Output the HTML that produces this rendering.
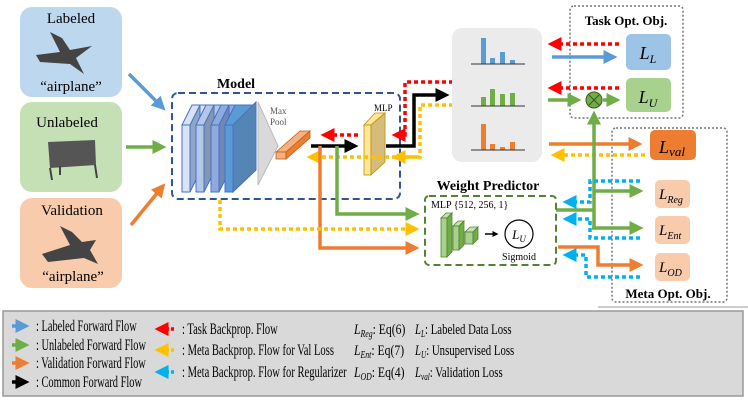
<!DOCTYPE html>
<html><head><meta charset="utf-8"><style>
body{margin:0;background:#fff}
svg{display:block;font-family:"Liberation Serif",serif}
</style></head><body>
<svg width="748" height="400" viewBox="0 0 748 400" xmlns="http://www.w3.org/2000/svg">
<defs>
<marker id="ab" markerWidth="4" markerHeight="4" refX="3" refY="2" orient="auto" markerUnits="strokeWidth"><path d="M0,0L4,2L0,4z" fill="#5b9bd5"/></marker>
<marker id="ag" markerWidth="4" markerHeight="4" refX="3" refY="2" orient="auto" markerUnits="strokeWidth"><path d="M0,0L4,2L0,4z" fill="#70ad47"/></marker>
<marker id="ao" markerWidth="4" markerHeight="4" refX="3" refY="2" orient="auto" markerUnits="strokeWidth"><path d="M0,0L4,2L0,4z" fill="#ed7d31"/></marker>
<marker id="ak" markerWidth="4" markerHeight="4" refX="3" refY="2" orient="auto" markerUnits="strokeWidth"><path d="M0,0L4,2L0,4z" fill="#000"/></marker>
<marker id="ar" markerWidth="4" markerHeight="4" refX="3" refY="2" orient="auto" markerUnits="strokeWidth"><path d="M0,0L4,2L0,4z" fill="#ff0000"/></marker>
<marker id="ay" markerWidth="4" markerHeight="4" refX="3" refY="2" orient="auto" markerUnits="strokeWidth"><path d="M0,0L4,2L0,4z" fill="#ffc000"/></marker>
<marker id="ac" markerWidth="4" markerHeight="4" refX="3" refY="2" orient="auto" markerUnits="strokeWidth"><path d="M0,0L4,2L0,4z" fill="#00b0f0"/></marker>
</defs>

<rect x="20" y="7" width="102" height="90" rx="12" fill="#bdd7ee"/>
<text x="71" y="23" font-size="15" text-anchor="middle">Labeled</text>
<path d="M36,55 L60,52 L50,32 L62,38 L70,50 L92,46 L76,58 L84,74 L70,64 L40,62z" fill="#444"/>
<text x="71" y="91" font-size="15" text-anchor="middle">“airplane”</text>
<rect x="20" y="102" width="102" height="90" rx="12" fill="#c5e0b4"/>
<text x="67" y="127" font-size="15" text-anchor="middle">Unlabeled</text>
<path d="M48,142 L95,140 L96,165 L50,168z" fill="#555"/>
<path d="M50,168 L52,180 M95,165 L97,178 M60,166 L60,175" stroke="#444" stroke-width="2"/>
<rect x="20" y="198" width="102" height="90" rx="12" fill="#f8cbad"/>
<text x="72" y="215" font-size="15" text-anchor="middle">Validation</text>
<path d="M42,254 L70,245 L60,226 L72,232 L82,242 L96,240 L90,250 L98,264 L84,258 L48,262z" fill="#444"/>
<text x="73" y="281" font-size="15" text-anchor="middle">“airplane”</text>

<line x1="129" y1="74" x2="163" y2="108" stroke="#5b9bd5" stroke-width="3.5" marker-end="url(#ab)"/>
<line x1="126" y1="147" x2="163" y2="147" stroke="#70ad47" stroke-width="3.5" marker-end="url(#ag)"/>
<line x1="131" y1="225" x2="163" y2="186" stroke="#ed7d31" stroke-width="3.5" marker-end="url(#ao)"/>

<text x="236" y="88" font-size="14" font-weight="bold" text-anchor="middle">Model</text>
<rect x="172" y="93" width="228" height="106" rx="6" fill="none" stroke="#2f5597" stroke-width="2" stroke-dasharray="7,4"/>
<g stroke="#4472c4" stroke-width="1">
<path d="M182,125 L192,105 L212,105 L202,125z" fill="#dae3f3"/><rect x="182" y="125" width="8" height="67" fill="#dae3f3"/><path d="M190,125 L200,105 L200,172 L190,192z" fill="#8fa6c8"/>
<path d="M196,125 L206,105 L226,105 L216,125z" fill="#b4c7e7"/><rect x="196" y="125" width="8" height="67" fill="#b4c7e7"/><path d="M204,125 L214,105 L214,172 L204,192z" fill="#8497b0"/>
<path d="M211,125 L221,105 L241,105 L231,125z" fill="#8faadc"/><rect x="211" y="125" width="8" height="67" fill="#8faadc"/><path d="M219,125 L229,105 L229,172 L219,192z" fill="#6f88b6"/>
<path d="M225,125 L235,105 L255,105 L245,125z" fill="#5b9bd5"/><rect x="225" y="125" width="8" height="67" fill="#5b9bd5"/><path d="M233,125 L256,102 L256,170 L233,192z" fill="#5585b5"/>
</g>
<path d="M258,102 L278,146 L258,185z" fill="#d9d9d9" stroke="#bbb"/>
<text x="270" y="114" font-size="9" fill="#555">Max</text>
<text x="270" y="125" font-size="9" fill="#555">Pool</text>
<path d="M276,152 L300,131 L310,131 L286,152z" fill="#f4b183" stroke="#c55a11" stroke-width="0.8"/>
<rect x="276" y="152" width="10" height="7" fill="#f4b183" stroke="#c55a11" stroke-width="0.8"/>
<path d="M286,152 L310,131 L310,138 L286,159z" fill="#ed7d31" stroke="#c55a11" stroke-width="0.8"/>
<text x="374" y="111" font-size="9">MLP</text>
<path d="M364,125 L375,113 L385,113 L371,125z" fill="#ffe699" stroke="#bf9000" stroke-width="0.8"/>
<rect x="364" y="125" width="7" height="50" fill="#ffe699" stroke="#bf9000" stroke-width="0.8"/>
<path d="M371,125 L385,113 L385,162 L371,175z" fill="#d6bc7a" stroke="#bf9000" stroke-width="0.8"/>

<line x1="311" y1="146" x2="355" y2="146" stroke="#000" stroke-width="3.5" marker-end="url(#ak)"/>
<line x1="358" y1="135" x2="324" y2="135" stroke="#ff0000" stroke-width="3.5" stroke-dasharray="4,3" marker-end="url(#ar)"/>
<path d="M417,157 L310,157" fill="none" stroke="#ffc000" stroke-width="3.5" stroke-dasharray="4,3" marker-end="url(#ay)"/>
<path d="M386,146 L414,146 L414,95 L446,95" fill="none" stroke="#000" stroke-width="3.5" marker-end="url(#ak)"/>
<path d="M453,82 L405,82 L405,135 L395,135" fill="none" stroke="#ff0000" stroke-width="3.5" stroke-dasharray="4,3" marker-end="url(#ar)"/>
<path d="M453,105 L420,105 L420,157 L395,157" fill="none" stroke="#ffc000" stroke-width="3.5" stroke-dasharray="4,3" marker-end="url(#ay)"/>

<path d="M337,146 L337,214 L416,214" fill="none" stroke="#70ad47" stroke-width="3.5" marker-end="url(#ag)"/>
<path d="M320,146 L320,248 L416,248" fill="none" stroke="#ed7d31" stroke-width="3.5" marker-end="url(#ao)"/>
<path d="M220,200 L220,229 L416,229" fill="none" stroke="#ffc000" stroke-width="3.5" stroke-dasharray="4,3" marker-end="url(#ay)"/>

<rect x="452" y="28" width="90" height="134" rx="10" fill="#ebebeb"/>
<g fill="#5b9bd5"><rect x="481" y="38" width="5" height="26"/><rect x="490" y="58" width="5" height="6"/><rect x="500" y="52" width="5" height="12"/><rect x="510" y="60" width="5" height="4"/></g>
<line x1="471" y1="64" x2="525" y2="64" stroke="#333"/>
<g fill="#70ad47"><rect x="481" y="97" width="5" height="9"/><rect x="490" y="89" width="5" height="17"/><rect x="500" y="94" width="5" height="12"/><rect x="510" y="93" width="5" height="13"/></g>
<line x1="471" y1="106" x2="525" y2="106" stroke="#333"/>
<g fill="#ed7d31"><rect x="481" y="124" width="5" height="26"/><rect x="490" y="144" width="5" height="6"/><rect x="500" y="147" width="5" height="3"/><rect x="510" y="142" width="5" height="8"/></g>
<line x1="471" y1="150" x2="525" y2="150" stroke="#333"/>

<rect x="570" y="6" width="113" height="112" rx="4" fill="none" stroke="#777" stroke-width="1.5" stroke-dasharray="2,2"/>
<text x="626" y="25" font-size="13" font-weight="bold" text-anchor="middle">Task Opt. Obj.</text>
<rect x="626" y="34" width="45" height="36" rx="5" fill="#9dc3e6"/>
<text x="648" y="59" font-size="18" font-style="italic" text-anchor="middle">L<tspan font-size="12" dy="4">L</tspan></text>
<rect x="626" y="78" width="45" height="34" rx="5" fill="#a9d18e"/>
<text x="648" y="103" font-size="18" font-style="italic" text-anchor="middle">L<tspan font-size="12" dy="4">U</tspan></text>
<line x1="619" y1="44" x2="551" y2="44" stroke="#ff0000" stroke-width="3.5" stroke-dasharray="4,3" marker-end="url(#ar)"/>
<line x1="619" y1="88" x2="551" y2="88" stroke="#ff0000" stroke-width="3.5" stroke-dasharray="4,3" marker-end="url(#ar)"/>
<line x1="552" y1="57" x2="614" y2="57" stroke="#5b9bd5" stroke-width="3.5" marker-end="url(#ab)"/>
<line x1="548" y1="100" x2="578" y2="100" stroke="#70ad47" stroke-width="3.5" marker-end="url(#ag)"/>
<line x1="603" y1="100" x2="617" y2="100" stroke="#70ad47" stroke-width="3.5" marker-end="url(#ag)"/>
<circle cx="594" cy="100" r="8" fill="#70ad47" stroke="#385723"/>
<path d="M589,95 L599,105 M599,95 L589,105" stroke="#385723" stroke-width="1"/>

<rect x="612" y="128" width="115" height="174" rx="4" fill="none" stroke="#777" stroke-width="1.5" stroke-dasharray="2,2"/>
<text x="668" y="298" font-size="13" font-weight="bold" text-anchor="middle">Meta Opt. Obj.</text>
<rect x="650" y="130" width="46" height="30" rx="5" fill="#ed7d31"/>
<text x="672" y="153" font-size="18" font-style="italic" text-anchor="middle">L<tspan font-size="13" dy="3">val</tspan></text>
<line x1="549" y1="144" x2="639" y2="144" stroke="#ed7d31" stroke-width="3.5" marker-end="url(#ao)"/>
<line x1="645" y1="155" x2="554" y2="155" stroke="#ffc000" stroke-width="3.5" stroke-dasharray="4,3" marker-end="url(#ay)"/>
<rect x="655" y="180" width="35" height="28" rx="5" fill="#f8cbad"/>
<text x="659" y="199" font-size="15" font-style="italic">L<tspan font-size="10" dy="4">Reg</tspan></text>
<rect x="655" y="216" width="35" height="28" rx="5" fill="#f8cbad"/>
<text x="659" y="235" font-size="15" font-style="italic">L<tspan font-size="10" dy="4">Ent</tspan></text>
<rect x="655" y="253" width="35" height="28" rx="5" fill="#f8cbad"/>
<text x="659" y="272" font-size="15" font-style="italic">L<tspan font-size="10" dy="4">OD</tspan></text>

<path d="M556,210 L594,210" stroke="#70ad47" stroke-width="3.5" fill="none"/>
<path d="M594,228 L594,114" stroke="#70ad47" stroke-width="3.5" fill="none" marker-end="url(#ag)"/>
<line x1="594" y1="191" x2="640" y2="191" stroke="#70ad47" stroke-width="3.5" marker-end="url(#ag)"/>
<line x1="592" y1="228" x2="640" y2="228" stroke="#70ad47" stroke-width="3.5" marker-end="url(#ag)"/>
<path d="M558,247 L598,247 L598,265 L640,265" fill="none" stroke="#ed7d31" stroke-width="3.5" marker-end="url(#ao)"/>
<path d="M640,181 L590,181 L590,202 L566,202" fill="none" stroke="#00b0f0" stroke-width="3.5" stroke-dasharray="4,3" marker-end="url(#ac)"/>
<path d="M640,238 L590,238 L590,219 L566,219" fill="none" stroke="#00b0f0" stroke-width="3.5" stroke-dasharray="4,3" marker-end="url(#ac)"/>
<path d="M640,277 L586,277 L586,255 L566,255" fill="none" stroke="#00b0f0" stroke-width="3.5" stroke-dasharray="4,3" marker-end="url(#ac)"/>

<text x="488" y="190" font-size="14" font-weight="bold" text-anchor="middle">Weight Predictor</text>
<rect x="425" y="196" width="131" height="69" rx="4" fill="none" stroke="#548235" stroke-width="2" stroke-dasharray="7,4"/>
<text x="431" y="208" font-size="10">MLP {512, 256, 1}</text>
<g stroke="#548235" stroke-width="0.8">
<path d="M441,218 L446,213 L452,213 L447,218z" fill="#c5e0b4"/><rect x="441" y="218" width="6" height="39" fill="#a9d18e"/><path d="M447,218 L452,213 L452,252 L447,257z" fill="#70ad47"/>
<path d="M453,226 L458,221 L464,221 L459,226z" fill="#c5e0b4"/><rect x="453" y="226" width="6" height="24" fill="#a9d18e"/><path d="M459,226 L464,221 L464,245 L459,250z" fill="#70ad47"/>
<path d="M465,232 L470,227 L478,227 L473,232z" fill="#c5e0b4"/><rect x="465" y="232" width="8" height="12" fill="#a9d18e"/><path d="M473,232 L478,227 L478,239 L473,244z" fill="#70ad47"/>
</g>
<line x1="485" y1="234" x2="497" y2="234" stroke="#000" stroke-width="1.5" marker-end="url(#ak)"/>
<circle cx="519" cy="234" r="14" fill="#fff" stroke="#000" stroke-width="1.2"/>
<text x="519" y="239" font-size="13" font-style="italic" text-anchor="middle">L<tspan font-size="9" dy="3">U</tspan></text>
<text x="519" y="260" font-size="10" text-anchor="middle">Sigmoid</text>

<line x1="598" y1="307" x2="748" y2="307" stroke="#999"/>
<rect x="3" y="311" width="740" height="85" fill="#d9d9d9" stroke="#999" stroke-width="1.5"/>
<g font-size="16">
<line x1="12" y1="326" x2="26" y2="326" stroke="#5b9bd5" stroke-width="3.5" marker-end="url(#ab)"/>
<line x1="12" y1="345" x2="26" y2="345" stroke="#70ad47" stroke-width="3.5" marker-end="url(#ag)"/>
<line x1="12" y1="363" x2="26" y2="363" stroke="#ed7d31" stroke-width="3.5" marker-end="url(#ao)"/>
<line x1="12" y1="382" x2="26" y2="382" stroke="#000" stroke-width="3.5" marker-end="url(#ak)"/>
<g transform="translate(36,0) scale(0.65,1)">
<text x="0" y="331">: Labeled Forward Flow</text>
<text x="0" y="350">: Unlabeled Forward Flow</text>
<text x="0" y="368">: Validation Forward Flow</text>
<text x="0" y="387">: Common Forward Flow</text>
</g>
<line x1="174" y1="329" x2="158" y2="329" stroke="#ff0000" stroke-width="3.5" stroke-dasharray="3,2" marker-end="url(#ar)"/>
<line x1="174" y1="350" x2="158" y2="350" stroke="#ffc000" stroke-width="3.5" stroke-dasharray="3,2" marker-end="url(#ay)"/>
<line x1="174" y1="372" x2="158" y2="372" stroke="#00b0f0" stroke-width="3.5" stroke-dasharray="3,2" marker-end="url(#ac)"/>
<g transform="translate(182,0) scale(0.66,1)">
<text x="0" y="334">: Task Backprop. Flow</text>
<text x="0" y="355">: Meta Backprop. Flow for Val Loss</text>
<text x="0" y="377">: Meta Backprop. Flow for Regularizer</text>
</g>
<g transform="translate(354,0) scale(0.78,1)" font-size="15">
<text x="0" y="334"><tspan font-style="italic">L</tspan><tspan font-size="10" font-style="italic" dy="3">Reg</tspan><tspan dy="-3">: Eq(6)</tspan></text>
<text x="0" y="355"><tspan font-style="italic">L</tspan><tspan font-size="10" font-style="italic" dy="3">Ent</tspan><tspan dy="-3">: Eq(7)</tspan></text>
<text x="0" y="377"><tspan font-style="italic">L</tspan><tspan font-size="10" font-style="italic" dy="3">OD</tspan><tspan dy="-3">: Eq(4)</tspan></text>
</g>
<g transform="translate(415,0) scale(0.72,1)" font-size="15">
<text x="0" y="334"><tspan font-style="italic">L</tspan><tspan font-size="10" font-style="italic" dy="3">L</tspan><tspan dy="-3">:  Labeled Data Loss</tspan></text>
<text x="0" y="355"><tspan font-style="italic">L</tspan><tspan font-size="10" font-style="italic" dy="3">U</tspan><tspan dy="-3">: Unsupervised Loss</tspan></text>
<text x="0" y="377"><tspan font-style="italic">L</tspan><tspan font-size="10" font-style="italic" dy="3">val</tspan><tspan dy="-3">: Validation Loss</tspan></text>
</g>
</g>
</svg>
</body></html>
